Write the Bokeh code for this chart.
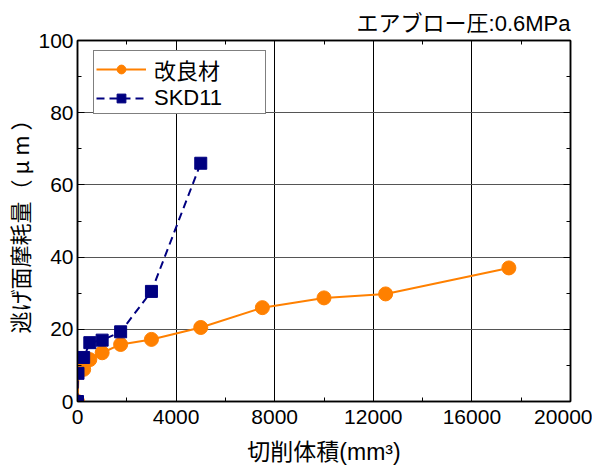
from bokeh.plotting import figure
from bokeh.models import (Range1d, LinearAxis, SingleIntervalTicker, Legend, LegendItem,
                          CustomJSTickFormatter)
from bokeh.embed import file_html
from bokeh.resources import INLINE

# data
kairyo_x = [0, 60, 250, 500, 1000, 1750, 3000, 5000, 7500, 10000, 12500, 17500]
kairyo_y = [0, 10.3, 8.9, 11.6, 13.5, 15.8, 17.2, 20.5, 26.0, 28.7, 29.8, 37.0]
skd_x = [0, 20, 250, 500, 1000, 1750, 3000, 5000]
skd_y = [0, 7.8, 12.2, 16.3, 17.0, 19.3, 30.5, 66.0]

x_ticks_interval = 4000
y_ticks_interval = 20

FONT = "'Liberation Sans', 'Noto Sans CJK JP'"
CJK = "'Noto Sans CJK JP', 'Liberation Sans'"

p = figure(frame_width=493, frame_height=361, output_backend="svg", toolbar_location=None,
           x_range=Range1d(0, 20000), y_range=Range1d(0, 100),
           min_border_left=72, min_border_right=22, min_border_top=40, min_border_bottom=5)
p.background_fill_color = "white"
p.border_fill_color = "white"
p.outline_line_color = "black"
p.outline_line_width = 1.5

p.title.text = "エアブロー圧:0.6MPa"
p.title.align = "right"
p.title.text_font = FONT
p.title.text_font_size = "22px"
p.title.text_font_style = "normal"
p.title.text_color = "black"
p.title.offset = 0
p.title.standoff = 10

p.xaxis.ticker = SingleIntervalTicker(interval=x_ticks_interval, num_minor_ticks=2)
p.yaxis.ticker = SingleIntervalTicker(interval=y_ticks_interval, num_minor_ticks=2)

for ax in (p.xaxis[0], p.yaxis[0]):
    ax.major_tick_in = 7
    ax.major_tick_out = 0
    ax.minor_tick_in = 4
    ax.minor_tick_out = 0
    ax.axis_line_color = "black"
    ax.axis_line_width = 1.5
    ax.major_tick_line_color = "black"
    ax.minor_tick_line_color = "black"
    ax.major_label_text_font = FONT
    ax.major_label_text_font_size = "21px"
    ax.major_label_text_color = "black"
    ax.axis_label_text_font_size = "23px"
    ax.axis_label_text_font_style = "normal"
    ax.axis_label_text_color = "black"

p.xaxis.axis_label = "切削体積(mm³)"
p.xaxis.axis_label_text_font = FONT
p.yaxis.axis_label = "逃げ面摩耗量（ μ m ）"
p.yaxis.axis_label_text_font = CJK
p.yaxis.axis_label_text_font_size = "22px"
p.xaxis.major_label_standoff = 8
p.yaxis.major_label_standoff = 4
p.xaxis.axis_label_standoff = 12
p.yaxis.axis_label_standoff = 0

# top and right axes (ticks only)
blank = CustomJSTickFormatter(code="return ''")
for loc in ("above", "right"):
    ax = LinearAxis(ticker=SingleIntervalTicker(interval=x_ticks_interval if loc == "above" else y_ticks_interval,
                                                num_minor_ticks=2),
                    formatter=blank, major_label_standoff=0,
                    major_tick_in=7, major_tick_out=0, minor_tick_in=4, minor_tick_out=0,
                    axis_line_width=1.5, axis_line_color="black")
    p.add_layout(ax, loc)

p.xgrid.grid_line_color = "black"
p.ygrid.grid_line_color = "#555555"
p.grid.grid_line_width = 1
p.xgrid.ticker = SingleIntervalTicker(interval=x_ticks_interval)
p.ygrid.ticker = SingleIntervalTicker(interval=y_ticks_interval)

ORANGE = "#FF8000"
NAVY = "#000080"

l1 = p.line(kairyo_x, kairyo_y, line_color=ORANGE, line_width=2)
m1 = p.scatter(kairyo_x, kairyo_y, marker="circle", size=14, fill_color=ORANGE, line_color=ORANGE)
l2 = p.line(skd_x, skd_y, line_color=NAVY, line_width=2, line_dash="8 5")
m2 = p.scatter(skd_x, skd_y, marker="square", size=12, fill_color=NAVY, line_color=NAVY)

legend = Legend(items=[LegendItem(label="改良材", renderers=[l1, m1]),
                       LegendItem(label="SKD11", renderers=[l2, m2])],
                location=(16, 287))
legend.label_text_font = FONT
legend.label_text_font_size = "22px"
legend.label_text_color = "black"
legend.glyph_width = 50
legend.glyph_height = 22
legend.label_width = 109
legend.label_height = 22
legend.label_standoff = 8
legend.spacing = -6
legend.padding = 2
legend.margin = 0
legend.border_line_color = "black"
legend.border_line_width = 1
legend.background_fill_alpha = 1
p.add_layout(legend, "center")

open("out.html", "w").write(file_html(p, INLINE))
